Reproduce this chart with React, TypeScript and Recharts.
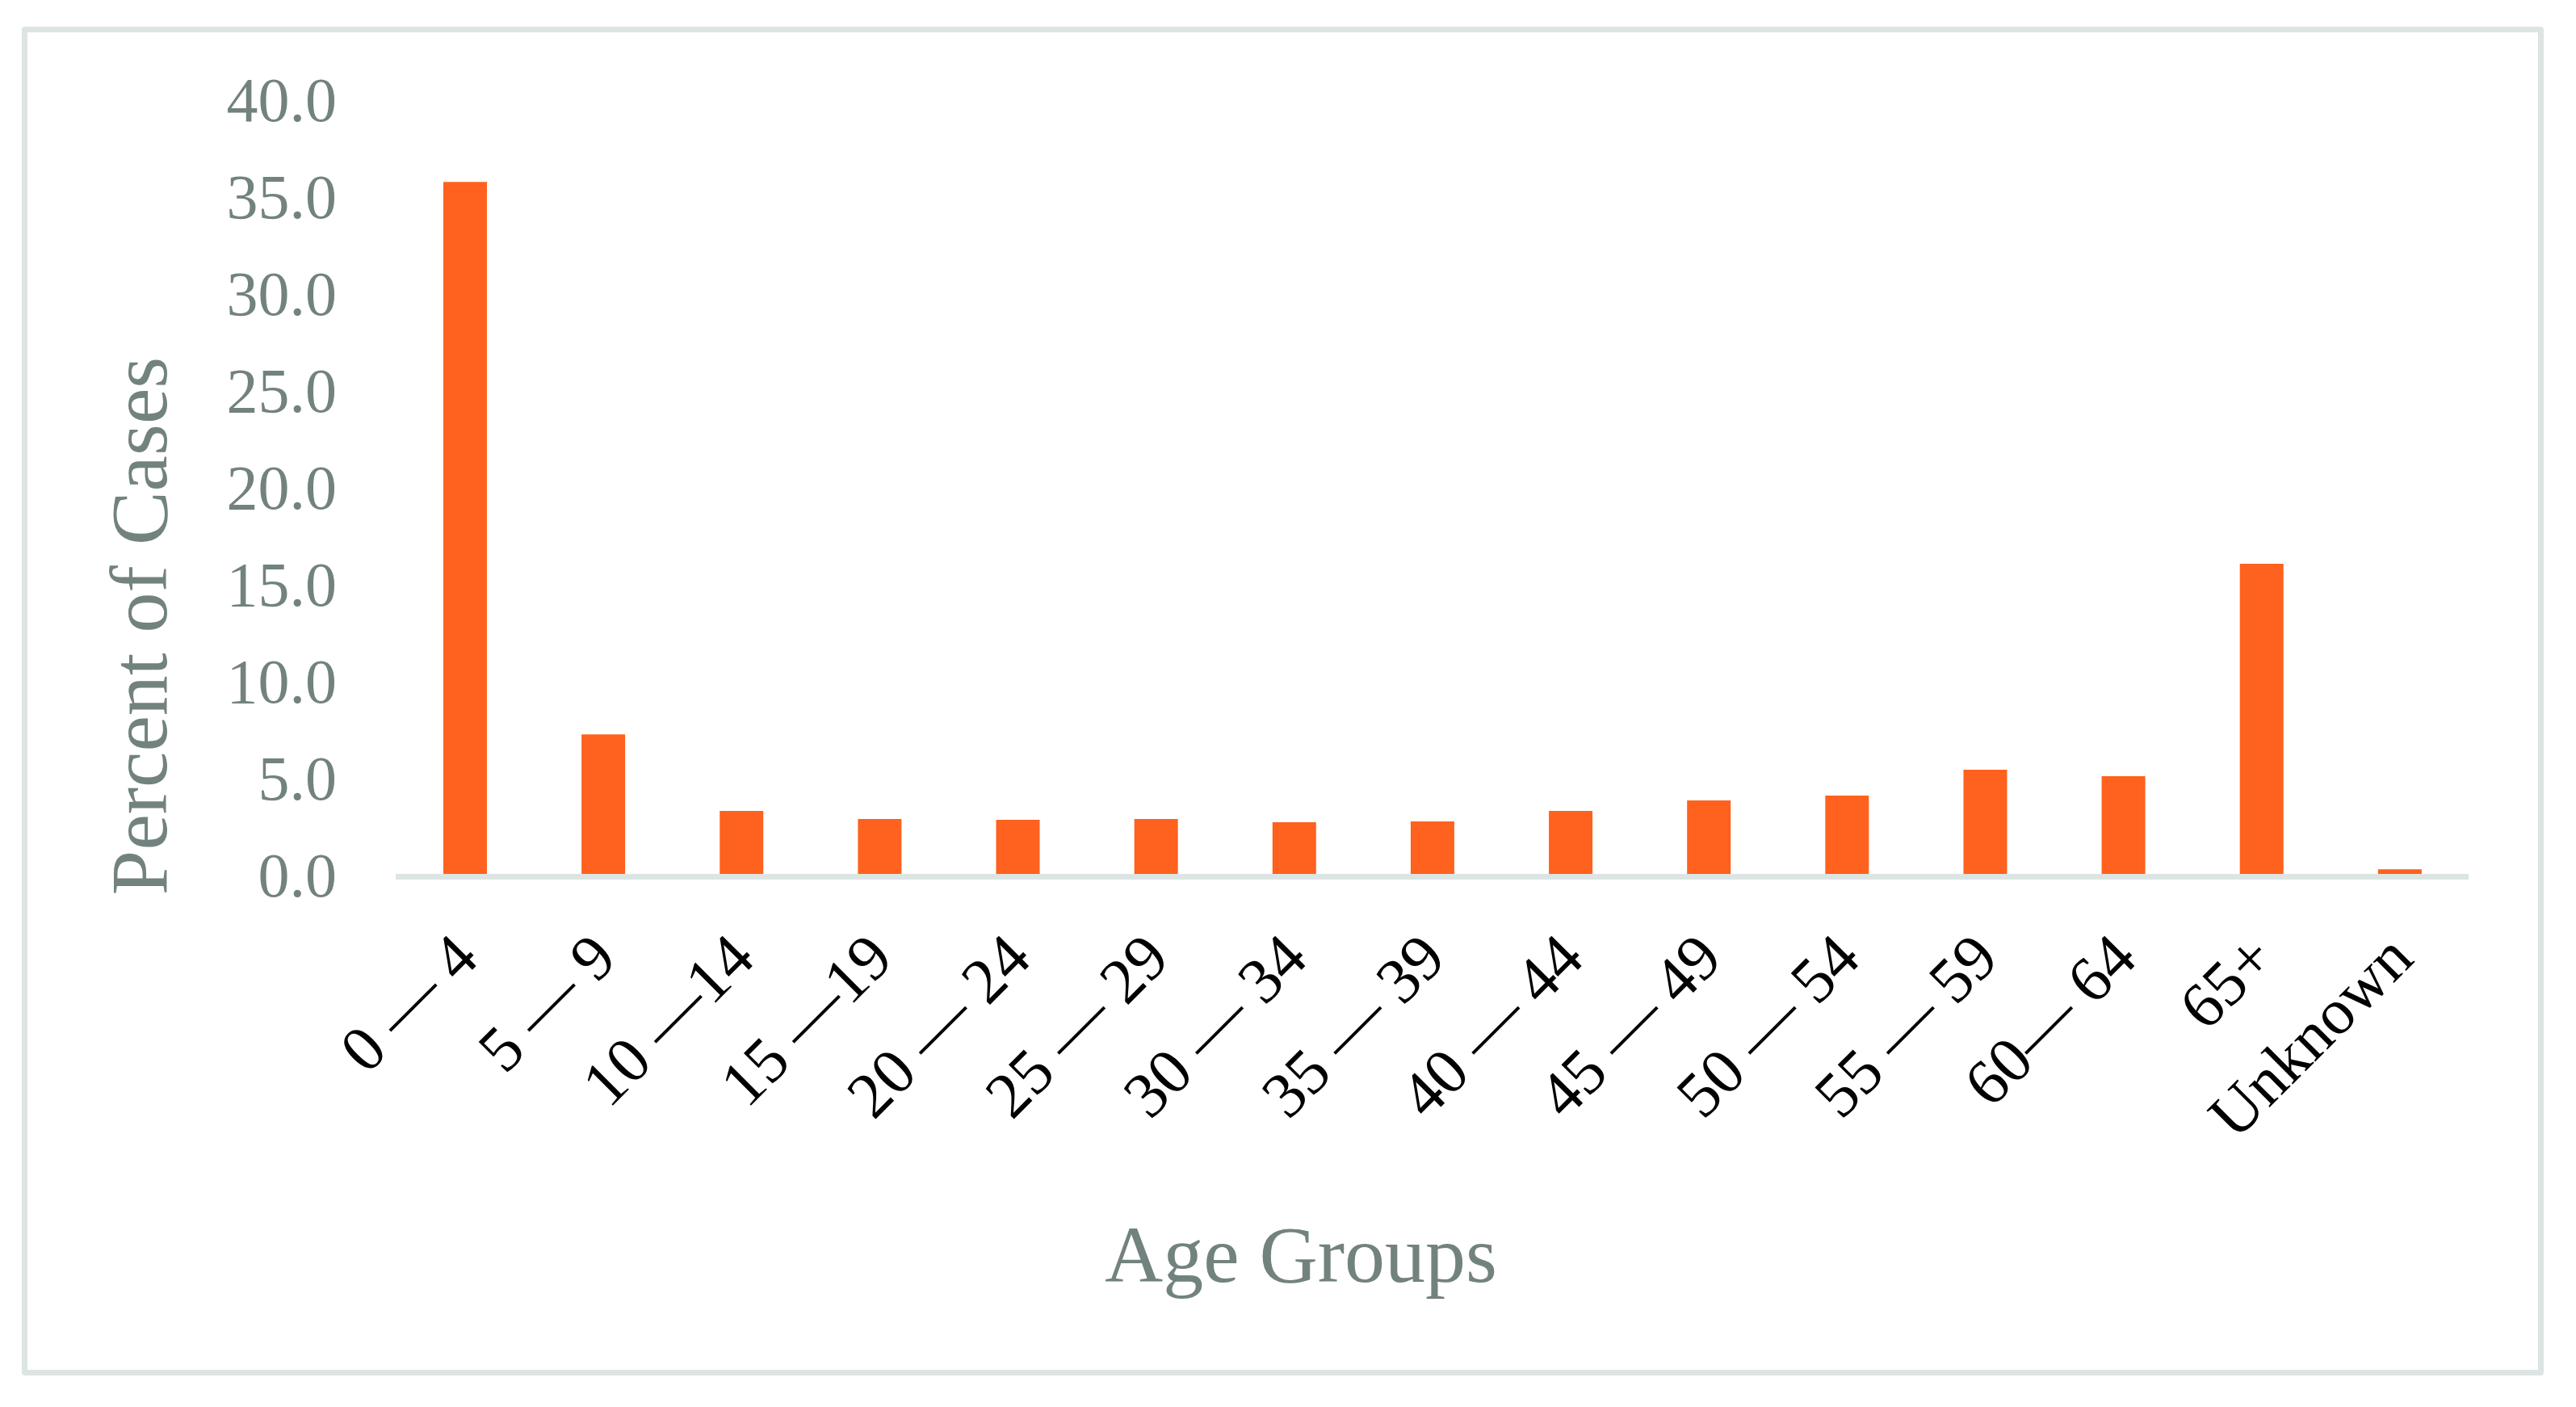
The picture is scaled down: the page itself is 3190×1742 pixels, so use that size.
import { BarChart, Bar, XAxis, YAxis } from "recharts";

const AGE_GROUPS = [
  "0 — 4", "5 — 9", "10 —14", "15 —19", "20 — 24", "25 — 29", "30 — 34", "35 — 39",
  "40 — 44", "45 — 49", "50 — 54", "55 — 59", "60— 64", "65+", "Unknown",
];
const PERCENT = [35.7, 7.2, 3.25, 2.83, 2.79, 2.83, 2.67, 2.71, 3.25, 3.79, 4.04, 5.37, 5.04, 16.0, 0.24];
const Y_TICKS = [0, 5, 10, 15, 20, 25, 30, 35, 40];

const data = AGE_GROUPS.map((g, i) => ({ group: g, pct: PERCENT[i] }));

const FONT = "'Liberation Serif', 'Times New Roman', serif";
const GREY = "#72827f";
const ORANGE = "#ff611e";
const FRAME = "#dce5e3";

function AgeTick(props: any) {
  const { x, y, payload } = props;
  const tx = x + 20;
  const ty = y + 100;
  return (
    <text x={tx} y={ty} textAnchor="end" fontFamily={FONT} fontSize={80} fill="#000"
      transform={`rotate(-45, ${tx}, ${ty})`}>
      {payload.value}
    </text>
  );
}

export default function App() {
  return (
    <div style={{ position: "fixed", left: 0, top: 0, width: 3190, height: 1742, background: "#fff", overflow: "hidden" }}>
      <div style={{ position: "absolute", left: 27, top: 33, width: 3123, height: 1670, boxSizing: "border-box",
        border: `7px solid ${FRAME}`, borderRadius: 4 }} />
      <div style={{ position: "absolute", left: 0, top: 0 }}>
        <BarChart width={3190} height={1742} data={data} margin={{ top: 122, right: 133, bottom: 0, left: 0 }}
          barSize={54}>
          <XAxis dataKey="group" height={660} interval={0} tickLine={false}
            axisLine={{ stroke: FRAME, strokeWidth: 7, transform: "translate(0, 3.5)" }}
            tick={<AgeTick />}
            label={{
              content: (p: any) => (
                <text x={p.viewBox.x + 1121} y={p.viewBox.y + 505} textAnchor="middle" fontFamily={FONT}
                  fontSize={100} fill={GREY}>Age Groups</text>
              ),
            }} />
          <YAxis width={490} domain={[0, 40]} ticks={Y_TICKS} interval={0} axisLine={false} tickLine={false}
            tickMargin={67} tickFormatter={(v: number) => v.toFixed(1)}
            tick={{ fontFamily: FONT, fontSize: 78, fill: GREY }}
            label={{
              content: (p: any) => {
                const cx = p.viewBox.x + 172;
                const cy = p.viewBox.y + 653;
                return (
                  <text x={cx} y={cy} textAnchor="middle" dominantBaseline="central" fontFamily={FONT}
                    fontSize={100} fill={GREY} transform={`rotate(-90, ${cx}, ${cy})`}>Percent of Cases</text>
                );
              },
            }} />
          <Bar dataKey="pct" fill={ORANGE} isAnimationActive={false} />
        </BarChart>
      </div>
    </div>
  );
}
